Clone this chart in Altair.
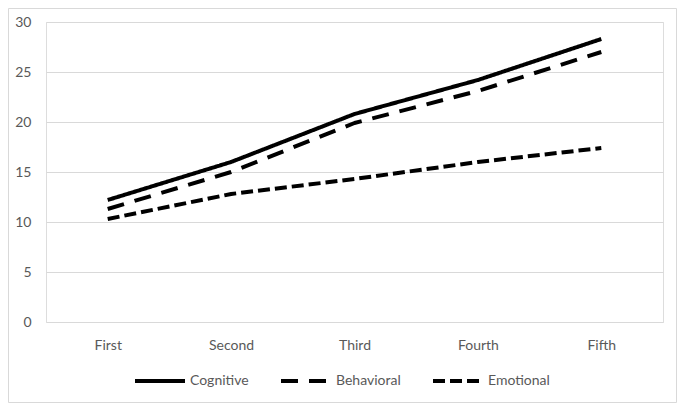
import altair as alt
import pandas as pd

stages = ["First", "Second", "Third", "Fourth", "Fifth"]
series_names = ["Cognitive", "Behavioral", "Emotional"]
cognitive = [12.2, 16.0, 20.8, 24.2, 28.3]
behavioral = [11.3, 15.0, 19.9, 23.1, 27.0]
emotional = [10.3, 12.8, 14.3, 16.0, 17.4]
y_ticks = [0, 5, 10, 15, 20, 25, 30]

rows = []
for name, vals in zip(series_names, [cognitive, behavioral, emotional]):
    for s, v in zip(stages, vals):
        rows.append({"Stage": s, "Series": name, "Value": v})
df = pd.DataFrame(rows)

FONT = "Lato"
GRAY = "#595959"
GRID = "#d9d9d9"

lines = alt.Chart(df).mark_line(strokeWidth=4, strokeJoin="round", color="black").encode(
    x=alt.X("Stage:N", sort=stages, title=None,
            axis=alt.Axis(labelAngle=0, domain=False, ticks=False, grid=False,
                          labelPadding=16, labelFontSize=14, labelColor=GRAY, labelFont=FONT)),
    y=alt.Y("Value:Q", title=None, scale=alt.Scale(domain=[0, 30], nice=False),
            axis=alt.Axis(values=y_ticks, domain=False, ticks=False, grid=True,
                          gridColor=GRID, gridWidth=1, labelPadding=15,
                          labelFontSize=14, labelColor=GRAY, labelFont=FONT)),
    strokeDash=alt.StrokeDash("Series:N", sort=series_names,
        scale=alt.Scale(domain=series_names, range=[[1, 0], [17, 11], [12, 5]]),
        legend=alt.Legend(title=None, orient="none", legendX=87, legendY=332,
                          direction="horizontal", symbolType="stroke", symbolSize=2500,
                          symbolStrokeWidth=4, symbolStrokeColor="black",
                          labelFont=FONT, labelFontSize=14, labelColor=GRAY,
                          columnPadding=24, labelOffset=3)),
    detail="Series:N",
)

frame = alt.Chart(pd.DataFrame({"a": [0]})).mark_rect(filled=False, stroke=GRID, strokeWidth=1).encode(
    x=alt.value(-37.5), x2=alt.value(630.5), y=alt.value(-13.5), y2=alt.value(380.5)
)

chart = alt.layer(frame, lines).properties(
    width=617, height=300,
    autosize=alt.AutoSizeParams(type="none"),
    padding={"left": 38, "top": 14, "right": 14, "bottom": 81},
).configure_view(stroke=None).configure(background="white")

chart.save("out.html", embed_options={"renderer": "svg", "actions": False})
